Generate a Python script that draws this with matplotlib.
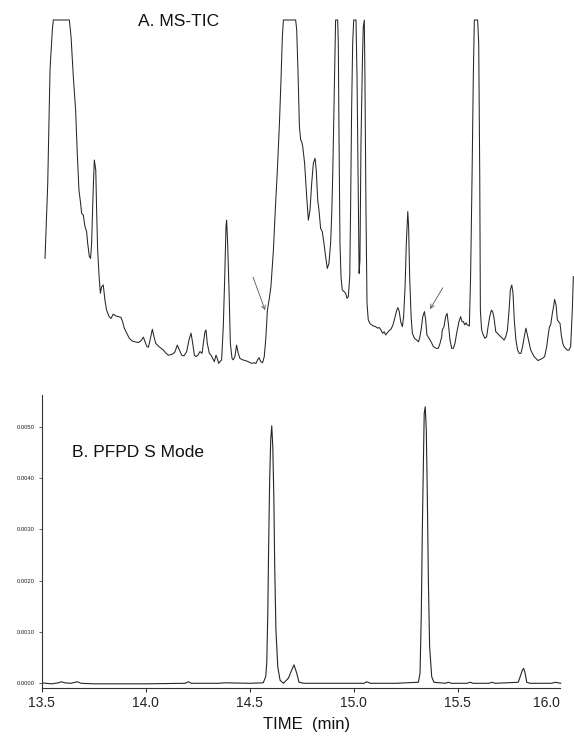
import matplotlib
matplotlib.use("Agg")
import matplotlib.pyplot as plt
from matplotlib.ticker import FormatStrFormatter
import matplotlib.transforms as mtransforms

plt.rcParams['font.family'] = ['Liberation Sans', 'DejaVu Sans']

# ---------------- Panel A: MS-TIC (relative abundance, saturated at 100) -------------
time_a = [13.516, 13.529, 13.540, 13.551, 13.556, 13.633, 13.641, 13.652, 13.663, 13.671,
          13.679, 13.687, 13.692, 13.700, 13.708, 13.716, 13.721, 13.729, 13.735, 13.740,
          13.747, 13.753, 13.760, 13.764, 13.769, 13.776, 13.782, 13.788, 13.796, 13.804,
          13.812, 13.824, 13.833, 13.844, 13.856, 13.869, 13.881, 13.889, 13.897, 13.909,
          13.921, 13.936, 13.949, 13.965, 13.977, 13.989, 13.997, 14.006, 14.013, 14.021,
          14.032, 14.040, 14.048, 14.061, 14.074, 14.085, 14.098, 14.109, 14.125, 14.138,
          14.141, 14.152, 14.162, 14.173, 14.184, 14.197, 14.208, 14.218, 14.226, 14.234,
          14.242, 14.251, 14.261, 14.271, 14.277, 14.285, 14.290, 14.296, 14.306, 14.314,
          14.322, 14.330, 14.338, 14.344, 14.351, 14.357, 14.365, 14.373, 14.380, 14.386,
          14.389, 14.394, 14.401, 14.407, 14.415, 14.421, 14.429, 14.437, 14.445, 14.453,
          14.466, 14.479, 14.493, 14.510, 14.521, 14.530, 14.538, 14.545, 14.553, 14.562,
          14.570, 14.578, 14.585, 14.594, 14.602, 14.614, 14.623, 14.633, 14.643, 14.651,
          14.657, 14.662, 14.721, 14.726, 14.732, 14.739, 14.745, 14.750, 14.755, 14.764,
          14.774, 14.782, 14.790, 14.798, 14.806, 14.814, 14.820, 14.827, 14.833, 14.841,
          14.849, 14.857, 14.865, 14.873, 14.881, 14.889, 14.894, 14.899, 14.904, 14.909,
          14.913, 14.923, 14.926, 14.929, 14.934, 14.939, 14.945, 14.955, 14.961, 14.968,
          14.974, 14.981, 14.985, 14.990, 14.995, 15.000, 15.011, 15.016, 15.021, 15.026,
          15.030, 15.035, 15.042, 15.046, 15.051, 15.054, 15.059, 15.064, 15.070, 15.078,
          15.086, 15.096, 15.106, 15.115, 15.122, 15.131, 15.139, 15.147, 15.154, 15.160,
          15.170, 15.179, 15.189, 15.199, 15.207, 15.213, 15.219, 15.226, 15.234, 15.240,
          15.247, 15.253, 15.260, 15.264, 15.269, 15.276, 15.282, 15.292, 15.303, 15.311,
          15.317, 15.324, 15.332, 15.340, 15.346, 15.352, 15.362, 15.372, 15.383, 15.396,
          15.407, 15.415, 15.423, 15.426, 15.434, 15.442, 15.449, 15.455, 15.463, 15.471,
          15.479, 15.487, 15.495, 15.506, 15.514, 15.521, 15.527, 15.534, 15.540, 15.546,
          15.556, 15.562, 15.569, 15.575, 15.580, 15.596, 15.601, 15.606, 15.609, 15.615,
          15.623, 15.631, 15.639, 15.646, 15.654, 15.662, 15.668, 15.675, 15.683, 15.691,
          15.699, 15.707, 15.715, 15.723, 15.731, 15.739, 15.747, 15.753, 15.760, 15.766,
          15.772, 15.780, 15.788, 15.796, 15.804, 15.812, 15.820, 15.828, 15.835, 15.843,
          15.851, 15.859, 15.867, 15.876, 15.886, 15.896, 15.907, 15.918, 15.928, 15.934,
          15.941, 15.947, 15.955, 15.961, 15.966, 15.973, 15.979, 15.985, 15.992, 15.998,
          16.005, 16.011, 16.018, 16.027, 16.035, 16.043, 16.051, 16.056]
abund_a = [33.8, 54.6, 86.1, 97.2, 100, 100, 95.4, 84.3, 75.0, 63.0,
           52.8, 49.1, 46.3, 45.8, 42.6, 41.2, 38.0, 34.3, 33.8, 38.0,
           51.9, 61.1, 58.3, 47.2, 36.1, 28.7, 24.1, 25.9, 26.4, 22.2,
           19.4, 17.6, 17.1, 18.3, 17.8, 17.6, 17.4, 16.2, 14.4, 13.0,
           11.6, 10.8, 10.6, 10.4, 10.9, 11.9, 10.6, 9.3, 9.1, 11.1,
           14.1, 12.0, 10.2, 9.4, 8.8, 8.3, 7.4, 6.9, 7.1, 7.6,
           7.9, 9.7, 8.3, 6.9, 6.7, 7.9, 11.1, 13.0, 10.2, 6.9,
           6.5, 6.9, 7.9, 7.4, 10.2, 13.4, 13.9, 10.2, 7.4, 6.9,
           6.0, 5.1, 6.9, 6.0, 4.6, 5.1, 5.6, 14.8, 28.7, 42.6,
           44.4, 38.0, 24.1, 10.2, 6.0, 5.6, 6.5, 9.7, 7.4, 6.0,
           5.6, 5.4, 5.1, 4.6, 4.8, 4.6, 5.6, 6.2, 5.1, 4.8,
           6.5, 12.0, 19.4, 22.5, 25.9, 36.1, 47.2, 58.3, 71.3, 84.3,
           95.4, 100, 100, 97.2, 86.1, 70.4, 66.7, 66.2, 64.8, 60.2,
           50.9, 44.4, 47.2, 54.6, 60.2, 61.6, 58.3, 50.0, 47.2, 42.1,
           41.2, 38.0, 34.3, 31.0, 32.4, 38.0, 45.4, 56.5, 72.2, 88.9,
           100, 100, 93.5, 70.4, 38.0, 28.7, 25.0, 24.5, 24.1, 22.7,
           23.1, 28.7, 47.2, 75.0, 93.5, 100, 100, 84.3, 56.5, 29.6,
           33.3, 65.7, 88.9, 98.1, 100, 84.3, 47.2, 21.3, 16.7, 15.7,
           15.3, 15.0, 14.8, 14.4, 14.6, 13.9, 13.0, 13.4, 12.5, 13.0,
           13.7, 14.1, 15.3, 17.6, 19.4, 20.1, 19.0, 16.2, 14.8, 17.6,
           25.9, 38.0, 46.8, 42.6, 28.7, 17.6, 13.0, 11.6, 11.1, 10.6,
           11.6, 13.9, 17.6, 19.0, 16.7, 12.5, 11.6, 10.6, 9.3, 8.8,
           8.8, 10.2, 12.0, 13.9, 14.8, 17.6, 18.5, 15.7, 11.1, 8.8,
           8.8, 10.2, 13.0, 16.2, 17.6, 16.2, 16.2, 15.3, 15.9, 15.3,
           15.0, 28.7, 56.5, 84.3, 100, 100, 93.5, 56.5, 19.4, 13.9,
           12.5, 11.6, 12.0, 14.8, 17.6, 19.4, 19.0, 17.1, 13.4, 13.0,
           12.5, 12.0, 11.6, 11.1, 12.0, 13.9, 19.4, 25.0, 26.4, 24.1,
           16.7, 11.1, 8.3, 7.4, 7.4, 9.3, 12.0, 14.4, 12.5, 10.2,
           8.3, 7.4, 6.5, 6.0, 5.4, 5.7, 6.0, 6.5, 9.3, 12.0,
           14.8, 15.3, 18.5, 20.4, 22.4, 20.8, 16.7, 16.2, 15.7, 12.5,
           10.2, 9.3, 8.8, 8.3, 8.3, 9.3, 19.4, 28.7]

# arrows in panel A: (tail time, tail abundance, head time, head abundance)
arrows_a = [(14.516, 28.6, 14.574, 19.4),
            (15.428, 25.6, 15.367, 19.7)]

# ---------------- Panel B: PFPD S mode -------------
time_b = [13.500, 13.520, 13.550, 13.580, 13.596, 13.610, 13.640, 13.671, 13.690, 13.750,
          13.850, 14.000, 14.190, 14.205, 14.220, 14.350, 14.380, 14.500, 14.565, 14.577,
          14.582, 14.587, 14.591, 14.596, 14.601, 14.606, 14.611, 14.616, 14.620, 14.626,
          14.635, 14.646, 14.662, 14.686, 14.702, 14.713, 14.726, 14.737, 14.760, 14.900,
          15.050, 15.0625, 15.080, 15.200, 15.311, 15.319, 15.325, 15.330, 15.335, 15.339,
          15.344, 15.349, 15.354, 15.359, 15.365, 15.375, 15.386, 15.440, 15.455, 15.470,
          15.545, 15.559, 15.575, 15.650, 15.663, 15.680, 15.791, 15.803, 15.811, 15.817,
          15.824, 15.832, 15.848, 15.950, 15.970, 15.995]
signal_b = [0.00001, 0.0, -0.00001, 0.00001, 0.00003, 0.00001, 0.0, 0.00003, 0.0, -0.00001,
            -0.00001, -0.00001, 0.0, 0.00003, 0.0, 0.0, 0.00001, 0.0, 0.00001, 0.00013,
            0.00039, 0.00136, 0.00266, 0.00396, 0.00474, 0.00502, 0.00461, 0.00364, 0.00234, 0.00104,
            0.00032, 0.00006, 0.0, 0.0001, 0.00026, 0.00036, 0.0002, 0.00002, 0.0, 0.0,
            0.0, 0.00003, 0.0, 0.0, 0.00002, 0.0002, 0.00136, 0.00299, 0.00429, 0.00526,
            0.00539, 0.00494, 0.00364, 0.00201, 0.00071, 0.00013, 0.00002, 0.0, 0.00002, 0.0,
            0.0, 0.00002, 0.0, 0.0, 0.00002, 0.0, 0.00002, 0.00016, 0.00026, 0.00029,
            0.0002, 0.00002, 0.0, 0.0, 0.00002, 0.0]

x_ticks = [13.5, 14.0, 14.5, 15.0, 15.5, 16.0]
x_tick_labels = ["13.5", "14.0", "14.5", "15.0", "15.5", "16.0"]
y_ticks_b = [0.0, 0.001, 0.002, 0.003, 0.004, 0.005]

W, H = 574, 739
fig = plt.figure(figsize=(W / 100, H / 100), dpi=100)

def px_axes(left, top, right, bottom):
    return fig.add_axes([left / W, 1 - bottom / H, (right - left) / W, (bottom - top) / H])

# Panel A
axA = px_axes(41.7, 16.4, 574, 380)
axA.plot(time_a, abund_a, color='#262626', lw=0.75, clip_on=False)
for t0, a0, t1, a1 in arrows_a:
    axA.annotate('', xy=(t1, a1), xytext=(t0, a0),
                 arrowprops=dict(arrowstyle='->', color='#555555', lw=0.6,
                                 shrinkA=0, shrinkB=0, mutation_scale=7))
axA.set_xlim(13.5, 13.5 + 532.3 / 208)
axA.set_ylim(0, 101)
axA.axis('off')

# Panel B
axB = px_axes(41.7, 395, 561.7, 688)
axB.plot(time_b, signal_b, color='#262626', lw=0.8)
axB.set_xlim(13.5, 16.0)
axB.set_ylim(-0.0000916, 0.00562)
for s in ['top', 'right']:
    axB.spines[s].set_visible(False)
for s in ['left', 'bottom']:
    axB.spines[s].set_linewidth(0.8)
    axB.spines[s].set_color('#333333')
axB.spines['bottom'].set_bounds(13.5, 15.99)
axB.set_xticks(x_ticks)
axB.set_xticklabels(x_tick_labels, fontsize=10)
axB.set_yticks(y_ticks_b)
axB.yaxis.set_major_formatter(FormatStrFormatter('%.4f'))
axB.tick_params(axis='x', direction='out', length=3, width=0.7, pad=3, colors='#222222')
axB.tick_params(axis='y', direction='out', length=2.5, width=0.5, pad=2.5, labelsize=4.2,
                colors='#222222')
# the 16.0 tick mark is not drawn in the original; its label sits left of the axis end
last_tick = axB.xaxis.get_major_ticks()[-1]
last_tick.tick1line.set_visible(False)
lab = axB.get_xticklabels()[-1]
lab.set_transform(lab.get_transform() + mtransforms.ScaledTranslation(-15 / 100, 0, fig.dpi_scale_trans))

fig.text(178.5 / W, 1 - 22 / H, 'A. MS-TIC', fontsize=12.5, ha='center', va='center', color='#111111')
fig.text(138.5 / W, 1 - 452 / H, 'B. PFPD S Mode', fontsize=12.5, ha='center', va='center', color='#111111')
fig.text(306.5 / W, 1 - 729 / H, 'TIME  (min)', fontsize=12, ha='center', va='baseline', color='#111111')

fig.savefig('out.png', dpi=100)
